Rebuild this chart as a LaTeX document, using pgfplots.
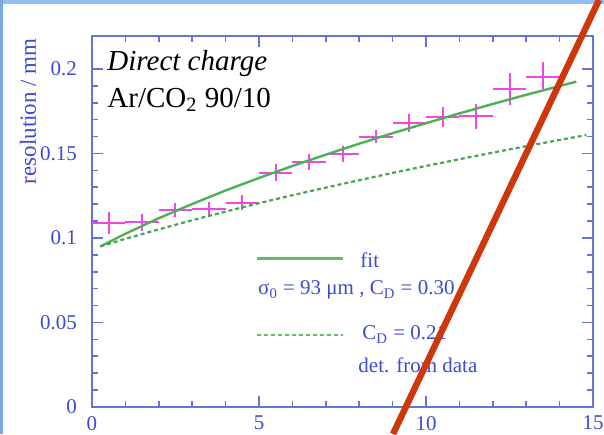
\documentclass[border=0pt]{standalone}
\usepackage{fontspec}
\setmainfont{Liberation Serif}
\usepackage{pgfplots}
\usepackage{pgfplotstable}
\pgfplotsset{compat=1.18}
\definecolor{axblue}{RGB}{100,115,215}
\definecolor{lblblue}{RGB}{60,75,205}
\definecolor{fitgreen}{RGB}{80,175,85}
\definecolor{leggreen}{RGB}{100,190,100}
\definecolor{dgreen}{RGB}{70,165,80}
\definecolor{pinkm}{RGB}{240,70,230}
\definecolor{redline}{RGB}{205,55,10}
\definecolor{frameblue}{RGB}{145,192,238}
\definecolor{leftblue}{RGB}{120,168,225}

\pgfplotstableread{
x    y       ex   ey
0.5  0.1090  0.5  0.0064
1.5  0.1092  0.5  0.0050
2.5  0.1166  0.5  0.0042
3.5  0.1170  0.5  0.0045
4.5  0.1209  0.5  0.0045
5.5  0.1385  0.5  0.0050
6.5  0.1450  0.5  0.0045
7.5  0.1497  0.5  0.0050
8.5  0.1600  0.5  0.0040
9.5  0.1680  0.5  0.0055
10.5 0.1714  0.5  0.0060
11.5 0.1720  0.5  0.0075
12.5 0.1880  0.5  0.0095
13.5 0.1955  0.5  0.0085
}\resdata

\begin{document}
\begin{tikzpicture}
\begin{axis}[
  at={(0,0)}, anchor=south west,
  scale only axis, width=250.5pt, height=185.5pt,
  xmin=0, xmax=15, ymin=0, ymax=0.2195,
  xtick={0,5,10,15}, ytick={0,0.05,0.1,0.15,0.2},
  minor x tick num=4, minor y tick num=4,
  tick align=inside, major tick length=5.5pt, minor tick length=3pt,
  axis line style={axblue, line width=1.4pt},
  every tick/.style={axblue, line width=0.8pt},
  tick label style={font=\fontsize{10.5}{12}\selectfont, text=lblblue},
  /pgf/number format/assume math mode=true,
  yticklabel style={/pgf/number format/fixed, /pgf/number format/precision=2, xshift=-4pt},
  xticklabel style={yshift=-1pt},
  clip=false,
]
\addplot[draw=none, mark=none,
  error bars/.cd, x dir=both, x explicit, y dir=both, y explicit,
  error mark=none, error bar style={draw=pinkm, line width=1pt}]
  table[x=x, y=y, x error=ex, y error=ey] {\resdata};

\addplot[fitgreen, line width=1.2pt] coordinates {
(0.25,0.0950) (1,0.1025) (2,0.1117) (3,0.1201) (4,0.1281) (5,0.1355)
(6,0.1426) (7,0.1493) (8,0.1558) (9,0.1620) (10,0.1679) (11,0.1737)
(12,0.1793) (13,0.1847) (14,0.1899) (14.5,0.1925)};

\addplot[dgreen, line width=1.1pt, dash pattern=on 2pt off 1.5pt] coordinates {
(0.25,0.0950) (1,0.0995) (2,0.1051) (3,0.1105) (4,0.1156) (5,0.1206)
(6,0.1253) (7,0.1298) (8,0.1342) (9,0.1385) (10,0.1426) (11,0.1466)
(12,0.1505) (13,0.1543) (14,0.1580) (14.8,0.1609)};

\node[rotate=90, anchor=east, inner sep=0pt, text=lblblue, font=\fontsize{11.5}{13}\selectfont]
  at ([xshift=-32pt,yshift=-1pt]axis description cs:0,1) {resolution / mm};

\node[anchor=base west, inner sep=0pt, font=\fontsize{14.5}{16}\selectfont\itshape]
  at (axis description cs:0.03,0.908) {Direct charge};
\node[anchor=base west, inner sep=0pt, font=\fontsize{14.5}{16}\selectfont]
  at (axis description cs:0.03,0.8086) {Ar/CO\textsubscript{2} 90/10};

\draw[leggreen, line width=1.5pt] (axis description cs:0.329,0.399) -- (axis description cs:0.501,0.399);
\node[anchor=base west, inner sep=0pt, text=lblblue, font=\fontsize{10.5}{12}\selectfont]
  at (axis description cs:0.535,0.377) {fit};
\node[anchor=base west, inner sep=0pt, text=lblblue, font=\fontsize{10.5}{12}\selectfont]
  at (axis description cs:0.331,0.302) {σ\textsubscript{0} = 93 μm , C\textsubscript{D} = 0.30};
\draw[leggreen, line width=1.2pt, dash pattern=on 2pt off 1.5pt] (axis description cs:0.329,0.194) -- (axis description cs:0.501,0.194);
\node[anchor=base west, inner sep=0pt, text=lblblue, font=\fontsize{10.5}{12}\selectfont]
  at (axis description cs:0.539,0.181) {C\textsubscript{D} = 0.21};
\node[anchor=base west, inner sep=0pt, text=lblblue, font=\fontsize{10.5}{12}\selectfont]
  at (axis description cs:0.531,0.094) {det. from data};
\end{axis}
\fill[frameblue] (-46pt,201.5pt) rectangle (256pt,203.5pt);
\fill[leftblue] (-46pt,-13.5pt) rectangle (-44.5pt,203.5pt);
\draw[redline, line width=3.2pt] (150.5pt,-13.5pt) -- (253.5pt,203.5pt);
\pgfresetboundingbox
\useasboundingbox (-46pt,-13.5pt) rectangle (256pt,203.5pt);
\end{tikzpicture}
\end{document}
